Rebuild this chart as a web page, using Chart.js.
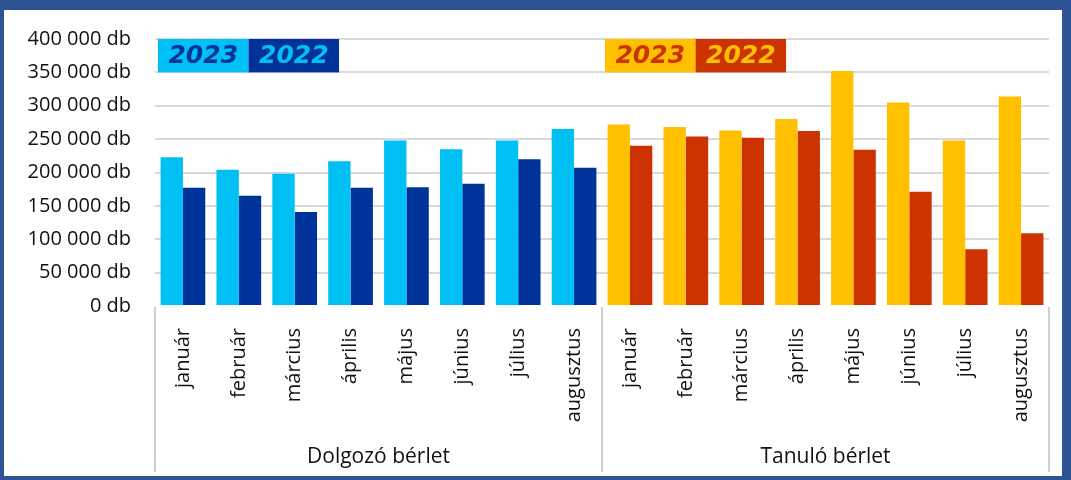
<!DOCTYPE html>
<html lang="hu">
<head>
<meta charset="utf-8">
<script src="https://cdn.jsdelivr.net/npm/chart.js@4"></script>
<style>
    html, body { margin: 0; padding: 0; }
    body { width: 1071px; height: 480px; background: #2f5496; position: relative; overflow: hidden; }
    #panel { position: absolute; left: 4px; top: 10px; width: 1058px; height: 466px; background: #fff; }
    #wrap { position: absolute; left: 0; top: 0; width: 1071px; height: 480px; }
</style>
</head>
<body>
<div id="panel"></div>
<div id="wrap"><canvas id="berletChart"></canvas></div>
<script>
document.addEventListener('DOMContentLoaded', () => {
    const months = ['január', 'február', 'március', 'április', 'május', 'június', 'július', 'augusztus']
    const groups = ['Dolgozó bérlet', 'Tanuló bérlet']
    const years = ['2023', '2022']

    // darabszámok, leolvasva
    const dolgozo2023 = [223000, 204000, 198000, 217000, 248000, 235000, 248000, 265000]
    const dolgozo2022 = [177000, 165000, 141000, 177000, 178000, 183000, 220000, 207000]
    const tanulo2023 = [272000, 268000, 263000, 280000, 352000, 305000, 248000, 314000]
    const tanulo2022 = [240000, 254000, 252000, 262000, 234000, 171000, 85000, 109000]

    const yMax = 400000
    const yStep = 50000

    const blueLight = '#00bff3'
    const blueDark = '#003399'
    const yellow = '#ffc000'
    const red = '#cc3300'
    const textColor = '#111111'
    const font = '"Open Sans", sans-serif'

    const labels = months.concat(months)
    const data2023 = dolgozo2023.concat(tanulo2023)
    const data2022 = dolgozo2022.concat(tanulo2022)
    const colors2023 = months.map(() => blueLight).concat(months.map(() => yellow))
    const colors2022 = months.map(() => blueDark).concat(months.map(() => red))

    const fmt = v => String(v).replace(/\B(?=(\d{3})+(?!\d))/g, ' ') + ' db'

    // group dividers + group names + the year boxes
    const decorPlugin = {
        id: 'decor',
        afterDraw(chart) {
            const ctx = chart.ctx
            const x = chart.scales.x
            const y = chart.scales.y
            const area = chart.chartArea
            const step = (area.right - area.left) / labels.length
            const mid = (x.getPixelForTick(7) + x.getPixelForTick(8)) / 2
            const bounds = [area.left, mid, area.right]

            ctx.save()
            ctx.strokeStyle = '#d0d0d0'
            ctx.lineWidth = 2
            bounds.forEach(bx => {
                ctx.beginPath()
                ctx.moveTo(bx, area.bottom + 1)
                ctx.lineTo(bx, chart.height - 8)
                ctx.stroke()
            })

            ctx.fillStyle = textColor
            ctx.font = '21px ' + font
            ctx.textAlign = 'center'
            ctx.textBaseline = 'middle'
            groups.forEach((g, i) => {
                ctx.fillText(g, (bounds[i] + bounds[i + 1]) / 2, chart.height - 23)
            })

            // year boxes
            const top = y.getPixelForValue(yMax)
            const bot = y.getPixelForValue(yMax - yStep)
            const w = step * 1.62
            const boxes = [
                { x0: area.left + 3, fills: [blueLight, blueDark], texts: [blueDark, blueLight] },
                { x0: mid + 3, fills: [yellow, red], texts: [red, yellow] }
            ]
            ctx.font = 'italic bold 25px "DejaVu Sans", sans-serif'
            boxes.forEach(b => {
                years.forEach((yr, j) => {
                    const bx = b.x0 + j * w
                    ctx.fillStyle = b.fills[j]
                    ctx.fillRect(bx, top, w, bot - top)
                    ctx.fillStyle = b.texts[j]
                    ctx.fillText(yr, bx + w / 2, (top + bot) / 2 + 1)
                })
            })
            ctx.restore()
        }
    }

    new Chart(document.getElementById('berletChart'), {
        type: 'bar',
        data: {
            labels: labels,
            datasets: [
                { label: '2023', data: data2023, backgroundColor: colors2023, borderWidth: 0 },
                { label: '2022', data: data2022, backgroundColor: colors2022, borderWidth: 0 }
            ]
        },
        options: {
            responsive: true,
            maintainAspectRatio: false,
            animation: false,
            categoryPercentage: 0.8,
            barPercentage: 1.0,
            layout: { padding: { top: 39, right: 22, left: 0, bottom: 0 } },
            plugins: {
                legend: { display: false },
                tooltip: { enabled: false }
            },
            scales: {
                x: {
                    grid: { display: false },
                    border: { display: false },
                    ticks: {
                        autoSkip: false,
                        minRotation: 90,
                        maxRotation: 90,
                        padding: 14,
                        color: textColor,
                        font: { family: font, size: 20 }
                    },
                    afterFit: s => { s.height = 174 }
                },
                y: {
                    min: 0,
                    max: yMax,
                    border: { display: false },
                    grid: {
                        drawTicks: false,
                        lineWidth: 2,
                        color: c => c.tick && c.tick.value === 0 ? 'rgba(0,0,0,0)' : '#d9d9d9'
                    },
                    ticks: {
                        stepSize: yStep,
                        padding: 24,
                        color: textColor,
                        font: { family: font, size: 20 },
                        callback: v => fmt(v)
                    },
                    afterFit: s => { s.width = 155 }
                }
            }
        },
        plugins: [decorPlugin]
    })
})
</script>
</body>
</html>
